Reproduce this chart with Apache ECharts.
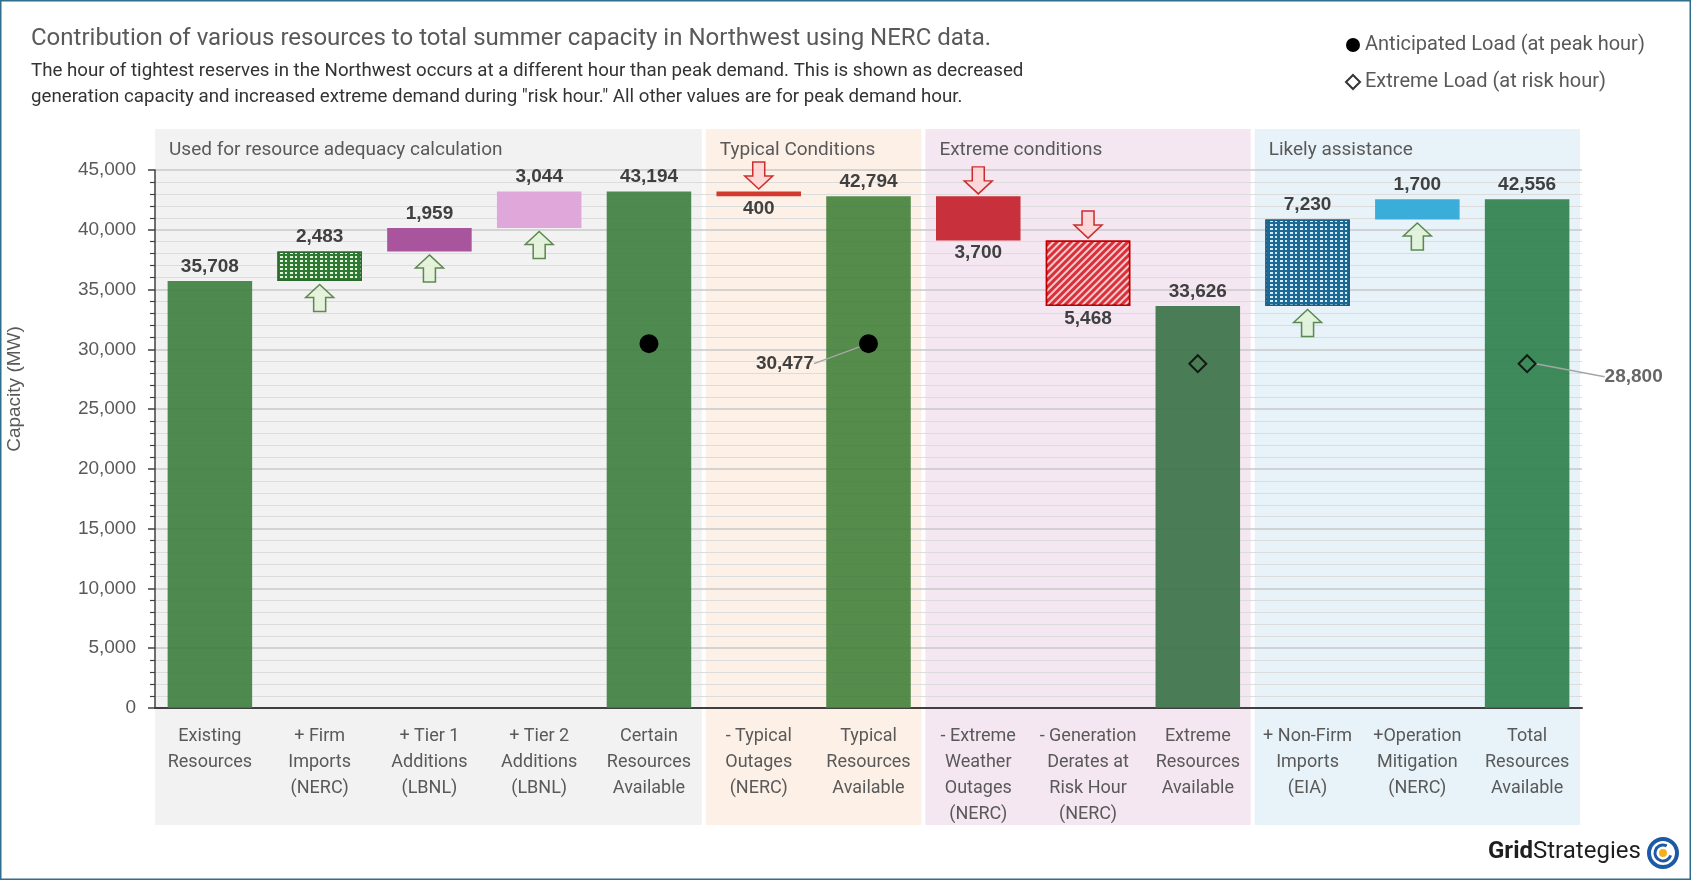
<!DOCTYPE html>
<html>
<head>
<meta charset="utf-8">
<title>Northwest summer capacity</title>
<script src="https://cdn.jsdelivr.net/npm/echarts@6.0.0/dist/echarts.min.js"></script>
<style>
  html, body { margin: 0; padding: 0; background: #fff; }
  #main { width: 1691px; height: 880px; }
</style>
</head>
<body>
<div id="main"></div>
<script>
// x axis categories
const categories = [
  'Existing\nResources', '+ Firm\nImports\n(NERC)', '+ Tier 1\nAdditions\n(LBNL)',
  '+ Tier 2\nAdditions\n(LBNL)', 'Certain\nResources\nAvailable', '- Typical\nOutages\n(NERC)',
  'Typical\nResources\nAvailable', '- Extreme\nWeather\nOutages\n(NERC)',
  '- Generation\nDerates at\nRisk Hour\n(NERC)', 'Extreme\nResources\nAvailable',
  '+ Non-Firm\nImports\n(EIA)', '+Operation\nMitigation\n(NERC)', 'Total\nResources\nAvailable'
];
// total = bar from zero, up / down = waterfall step
const kinds = ['total', 'up', 'up', 'up', 'total', 'down', 'total', 'down', 'down', 'total', 'up', 'up', 'total'];
const amounts = [35708, 2483, 1959, 3044, 43194, 400, 42794, 3700, 5468, 33626, 7230, 1700, 42556];
// loads
const peakLoad = ['-', '-', '-', '-', 30477, '-', 30477, '-', '-', '-', '-', '-', '-'];
const riskLoad = ['-', '-', '-', '-', '-', '-', '-', '-', '-', 28800, '-', '-', 28800];
const peakLabelAt = 6;
const riskLabelAt = 12;
// shaded groups of categories
const groupNames = ['Used for resource adequacy calculation', 'Typical Conditions', 'Extreme conditions', 'Likely assistance'];
const groupFirst = [0, 5, 7, 10];
const groupLast = [4, 6, 9, 12];

const groupColors = ['#f2f2f2', '#fdf0e7', '#f4e7f1', '#e7f3f9'];
const GREY = '#595959';
const FONT = 'Roboto';

const barStyles = [
  { color: 'rgba(60,126,62,0.9)' },
  { color: '#2f7a33', borderColor: '#2b6a2e', borderWidth: 1.5,
    decal: { symbol: 'rect', symbolSize: 1, color: '#e6f3de', dashArrayX: [[3, 2, 2, 3]], dashArrayY: [2, 2] } },
  { color: '#a9559e' },
  { color: '#e0a7da' },
  { color: 'rgba(60,126,62,0.9)' },
  { color: '#d4392f' },
  { color: 'rgba(66,128,58,0.9)' },
  { color: '#c8313c' },
  { color: '#d9303a', borderColor: '#c00000', borderWidth: 1.5,
    decal: { symbol: 'rect', symbolSize: 1, color: 'rgba(255,255,255,0.75)', dashArrayX: [1, 0], dashArrayY: [2, 3], rotation: -Math.PI / 4 } },
  { color: 'rgba(55,113,69,0.9)' },
  { color: '#1b6a96', borderColor: '#185f88', borderWidth: 1.5,
    decal: { symbol: 'rect', symbolSize: 1, color: '#d4ebf6', dashArrayX: [[3, 2, 2, 3]], dashArrayY: [2, 2] } },
  { color: '#3badd9' },
  { color: 'rgba(43,126,72,0.9)' }
];

// waterfall base + height
let level = 0;
const base = [], height = [];
kinds.forEach((k, i) => {
  const a = amounts[i];
  if (k === 'total') { base.push(0); height.push(a); level = a; }
  else if (k === 'up') { base.push(level); height.push(a); level += a; }
  else { level -= a; base.push(level); height.push(a); }
});

const fmt = v => Number(v).toLocaleString('en-US');
const upArrow = 'path://M14,0 L28,13 L20,13 L20,27 L8,27 L8,13 L0,13 Z';
const downArrow = 'path://M8,0 L20,0 L20,14 L28,14 L14,27 L0,14 L8,14 Z';

const valueLabel = { fontFamily: 'Liberation Sans', fontWeight: 'bold', fontSize: 19, color: '#404040' };

const option = {
  backgroundColor: '#fff',
  animation: false,
  title: {
    left: 26, top: 20, itemGap: 5,
    text: 'Contribution of various resources to total summer capacity in Northwest using NERC data.',
    textStyle: { fontFamily: FONT, fontSize: 24, fontWeight: 'normal', color: GREY, lineHeight: 28 },
    subtext: 'The hour of tightest reserves in the Northwest occurs at a different hour than peak demand. This is shown as decreased\ngeneration capacity and increased extreme demand during "risk hour." All other values are for peak demand hour.',
    subtextStyle: { fontFamily: FONT, fontSize: 18.7, color: '#333', lineHeight: 26 }
  },
  legend: {
    data: ['Anticipated Load (at peak hour)', 'Extreme Load (at risk hour)'],
    orient: 'vertical', left: 1340, top: 30, itemGap: 17,
    itemWidth: 14, itemHeight: 14,
    textStyle: { fontFamily: FONT, fontSize: 20, color: GREY }
  },
  grid: { left: 155, right: 109, top: 170, bottom: 172, containLabel: false, outerBoundsMode: 'none' },
  xAxis: {
    type: 'category', data: categories,
    axisLine: { lineStyle: { color: '#404040', width: 2 } },
    axisTick: { show: false },
    axisLabel: { interval: 0, margin: 15, fontFamily: FONT, fontSize: 18, lineHeight: 26, color: GREY }
  },
  yAxis: {
    type: 'value', min: 0, max: 45000, interval: 5000,
    name: 'Capacity (MW)', nameLocation: 'middle', nameGap: 131, nameRotate: 90,
    nameTextStyle: { fontFamily: 'Liberation Sans', fontSize: 19, color: GREY, padding: [0, 0, 0, 100] },
    axisLine: { show: true, lineStyle: { color: '#404040', width: 1.5 } },
    axisTick: { show: true, length: 7, lineStyle: { color: '#404040', width: 1.5 } },
    minorTick: { show: true, splitNumber: 5, length: 5, lineStyle: { color: '#404040', width: 1.2 } },
    axisLabel: { fontFamily: 'Liberation Sans', fontSize: 19, color: GREY, margin: 19, formatter: fmt },
    splitLine: { lineStyle: { color: '#c8c8c8', width: 1.5 } },
    minorSplitLine: { show: true, lineStyle: { color: '#dcdcdc', width: 1.2 } }
  },
  series: [
    {
      name: 'base', type: 'bar', stack: 'w', barWidth: '77%', silent: true,
      itemStyle: { color: 'transparent' }, data: base
    },
    {
      name: 'step', type: 'bar', stack: 'w', barWidth: '77%',
      data: height.map((h, i) => ({
        value: h,
        itemStyle: barStyles[i],
        label: { position: kinds[i] === 'down' ? 'bottom' : 'top', distance: kinds[i] === 'down' ? 3 : 5 }
      })),
      label: Object.assign({ show: true, formatter: p => fmt(amounts[p.dataIndex]) }, valueLabel)
    },
    {
      name: 'up', type: 'scatter', symbol: upArrow, symbolSize: [28, 27], symbolOffset: [0, 17], z: 4,
      itemStyle: { color: '#e1f2d6', borderColor: '#3b6e2c', borderWidth: 1.5 },
      data: kinds.map((k, i) => k === 'up' ? base[i] : '-')
    },
    {
      name: 'down', type: 'scatter', symbol: downArrow, symbolSize: [28, 27], symbolOffset: [0, -16], z: 4,
      itemStyle: { color: '#ffd3d3', borderColor: '#c00000', borderWidth: 1.5 },
      data: kinds.map((k, i) => k === 'down' ? base[i] + height[i] : '-')
    },
    {
      name: 'Anticipated Load (at peak hour)', type: 'scatter', symbol: 'circle', symbolSize: 19, z: 5,
      itemStyle: { color: '#000', opacity: 1 },
      labelLine: { show: true, lineStyle: { color: '#a6a6a6', width: 1.5 } },
      labelLayout: p => p.dataIndex === peakLabelAt ? { dy: 20 } : {},
      data: peakLoad.map((v, i) => i === peakLabelAt ? {
        value: v,
        label: Object.assign({ show: true, position: 'left', distance: 45, formatter: p => fmt(p.value) }, valueLabel)
      } : v)
    },
    {
      name: 'Extreme Load (at risk hour)', type: 'scatter', symbol: 'diamond', symbolSize: 17, z: 5,
      itemStyle: { color: 'transparent', borderColor: '#000', borderWidth: 2 },
      labelLine: { show: true, lineStyle: { color: '#a6a6a6', width: 1.5 } },
      labelLayout: p => p.dataIndex === riskLabelAt ? { dy: 13 } : {},
      data: riskLoad.map((v, i) => i === riskLabelAt ? {
        value: v,
        label: Object.assign({ show: true, position: 'right', distance: 68, formatter: p => fmt(p.value) }, valueLabel)
      } : v)
    }
  ]
};

const chart = echarts.init(document.getElementById('main'));
chart.setOption(option);

// shaded group bands and their titles
const px = i => chart.convertToPixel({ xAxisIndex: 0 }, i);
const cw = px(1) - px(0);
const graphics = [];
groupNames.forEach((name, g) => {
  const x0 = px(groupFirst[g]) - cw / 2 + (g === 0 ? 0 : 2);
  const x1 = px(groupLast[g]) + cw / 2 - 2;
  graphics.push({
    type: 'rect', z: -10, silent: true,
    shape: { x: x0, y: 129, width: x1 - x0, height: 696 },
    style: { fill: groupColors[g] }
  });
  graphics.push({
    type: 'text', z: 10, silent: true, x: x0 + 14, y: 150,
    style: { text: name, fontFamily: FONT, fontSize: 19, fill: GREY, verticalAlign: 'middle' }
  });
});
// logo
graphics.push({
  type: 'text', x: 1488, y: 852, silent: true,
  style: {
    text: '{b|Grid}{r|Strategies}', verticalAlign: 'middle',
    rich: {
      b: { fontFamily: FONT, fontSize: 24, fontWeight: 'bold', fill: '#1e1e1e' },
      r: { fontFamily: FONT, fontSize: 24, fill: '#1e1e1e' }
    }
  }
});
graphics.push({ type: 'circle', silent: true, shape: { cx: 1663, cy: 853, r: 14 }, style: { fill: 'none', stroke: '#1d5aa6', lineWidth: 4 } });
graphics.push({ type: 'arc', silent: true, shape: { cx: 1663, cy: 853, r: 8, startAngle: 0.3, endAngle: 5.2 }, style: { fill: 'none', stroke: '#1d5aa6', lineWidth: 3 } });
graphics.push({ type: 'circle', silent: true, shape: { cx: 1663, cy: 853, r: 4 }, style: { fill: '#f2b01e' } });
// frame
graphics.push({
  type: 'rect', silent: true, z: 20,
  shape: { x: 0.75, y: 0.75, width: 1689.5, height: 878.5 },
  style: { fill: 'none', stroke: '#2e6f8e', lineWidth: 1.5 }
});
chart.setOption({ graphic: graphics });
</script>
</body>
</html>
